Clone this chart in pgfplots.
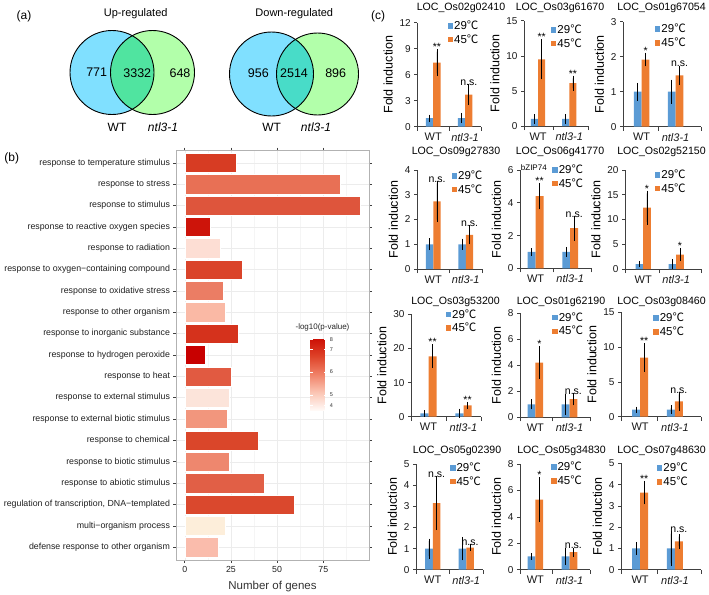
\documentclass[border=0pt]{standalone}
\usepackage{fontspec}
\setmainfont{Liberation Sans}
\newfontfamily\cjk{Noto Sans CJK SC}
\usepackage{pgfplots}
\pgfplotsset{compat=1.18}
\newcommand{\fs}[1]{\fontsize{#1}{\dimexpr #1pt*6/5\relax}\selectfont}
\newcommand{\dc}{{\cjk ℃}}

\definecolor{c29}{RGB}{91,155,213}
\definecolor{c45}{RGB}{237,125,49}
\definecolor{vennL}{RGB}{128,224,255}
\definecolor{vennR}{RGB}{178,255,170}
\definecolor{upMid}{RGB}{80,228,160}
\definecolor{downMid}{RGB}{72,220,200}

\tikzset{sig/.style={font=\fs{10.5}, anchor=south, inner sep=1pt},
  ttl/.style={font=\fs{10.6}}}

\pgfplotsset{
  fold/.style={
    scale only axis, anchor=south west,
    ybar, bar width=0.23,
    ymin=0, enlargelimits=false, clip=false,
    axis x line*=bottom, axis y line*=left,
    axis line style={black!75, line width=0.6pt},
    xtick={0,1}, xticklabels={WT, \textit{ntl3-1}},
    major x tick style={draw=none},
    tick align=outside, major tick length=3pt, minor tick length=4pt,
    y tick style={black!75, line width=0.6pt},
    minor tick style={black!75, line width=0.6pt},
    ticklabel style={font=\fs{10}, text=black!90},
    x tick label style={font=\fs{11}},
    ylabel={Fold induction}, ylabel style={font=\fs{12.5}},
    /pgf/number format/assume math mode=true,
    legend style={draw=none, fill=none, inner sep=0pt, anchor=north west,
      font=\fs{11.5}, row sep=1.5pt, nodes={inner sep=1pt}},
    legend cell align=left,
    legend image code/.code={\fill[##1, draw=none] (0pt,-2.8pt) rectangle (5.6pt,2.8pt);},
  },
  colA/.style={xmin=-0.5, xmax=1.5, minor xtick={-0.5,0.5,1.5}},
  colB/.style={xmin=-0.45, xmax=1.6, minor xtick={-0.45,0.5,1.6}},
  colC/.style={xmin=-0.55, xmax=1.75, minor xtick={-0.55,0.5,1.75}},
  eb/.style={draw=none, error bars/.cd, y dir=both, y explicit,
    error bar style={black, line width=0.6pt},
    error mark options={black, line width=0.6pt, mark size=2.6pt}},
  b29/.style={fill=c29, bar shift=-0.115, eb},
  b45/.style={fill=c45, bar shift=0.115, eb},
  gb/.style={xbar, bar width=0.9, bar shift=0, draw=white, line width=0.4pt},
}

\begin{document}
\begin{tikzpicture}

% ---------------- (a) Venn diagrams
\begin{axis}[hide axis, scale only axis, at={(0pt,0pt)}, anchor=north west,
  width=368pt, height=140pt, xmin=0, xmax=368, ymin=-140, ymax=0, clip=false]
\fill[vennL] (axis cs:112,-72.5) circle[radius=42pt];
\fill[vennR] (axis cs:152.5,-72.5) circle[radius=42pt];
\begin{scope}
\clip (axis cs:112,-72.5) circle[radius=42pt];
\fill[upMid] (axis cs:152.5,-72.5) circle[radius=42pt];
\end{scope}
\draw[black, line width=0.9pt] (axis cs:112,-72.5) circle[radius=42pt];
\draw[black, line width=0.9pt] (axis cs:152.5,-72.5) circle[radius=42pt];
\fill[vennL] (axis cs:271.5,-74) circle[radius=42pt];
\fill[vennR] (axis cs:317.5,-74) circle[radius=41pt];
\begin{scope}
\clip (axis cs:271.5,-74) circle[radius=42pt];
\fill[downMid] (axis cs:317.5,-74) circle[radius=41pt];
\end{scope}
\draw[black, line width=0.9pt] (axis cs:271.5,-74) circle[radius=42pt];
\draw[black, line width=0.9pt] (axis cs:317.5,-74) circle[radius=41pt];
\node[font=\fs{12.5}] at (axis cs:96.7,-72.7) {771};
\node[font=\fs{12.5}] at (axis cs:137.3,-72.7) {3332};
\node[font=\fs{12.5}] at (axis cs:180,-72.7) {648};
\node[font=\fs{12.5}] at (axis cs:258.3,-73.5) {956};
\node[font=\fs{12.5}] at (axis cs:294,-73.5) {2514};
\node[font=\fs{12.5}] at (axis cs:335.7,-73.5) {896};
\node[font=\fs{11}] at (axis cs:135.7,-13.3) {Up-regulated};
\node[font=\fs{11}] at (axis cs:294.3,-13.3) {Down-regulated};
\node[font=\fs{12}] at (axis cs:117,-127) {WT};
\node[font=\fs{12}] at (axis cs:163,-127) {\textit{ntl3-1}};
\node[font=\fs{12}] at (axis cs:271.7,-127) {WT};
\node[font=\fs{12}] at (axis cs:316,-127) {\textit{ntl3-1}};
\end{axis}

% ---------------- (b) GO bar chart
\begin{axis}[scale only axis, at={(176pt,-560pt)}, anchor=south west,
  width=193pt, height=410pt,
  xmin=-4.75, xmax=99.75, ymin=0.4, ymax=19.6, y dir=reverse,
  xtick={0,25,50,75}, minor xtick={12.5,37.5,62.5,87.5},
  ytick={1,...,19},
  yticklabels={response to temperature stimulus, response to stress,
    response to stimulus, response to reactive oxygen species,
    response to radiation, response to oxygen−containing compound,
    response to oxidative stress, response to other organism,
    response to inorganic substance, response to hydrogen peroxide,
    response to heat, response to external stimulus,
    response to external biotic stimulus, response to chemical,
    response to biotic stimulus, response to abiotic stimulus,
    {regulation of transcription, DNA−templated}, multi−organism process,
    defense response to other organism},
  grid=both, major grid style={gray!15, line width=0.5pt},
  minor grid style={gray!8, line width=0.3pt},
  axis line style={gray!60, line width=0.6pt},
  tick style={black!75, line width=0.6pt}, tick align=outside,
  major tick length=2.5pt, minor tick length=0pt,
  ticklabel style={font=\fs{8.8}, text=black!88},
  /pgf/number format/assume math mode=true,
  xlabel={Number of genes}, xlabel style={font=\fs{11.5}, text=black!80, yshift=-2pt},
  colormap={pv}{rgb255=(255,249,246) rgb255=(251,196,178) rgb255=(240,128,102) rgb255=(222,66,40) rgb255=(204,14,4)},
  point meta min=0, point meta max=1,
  colorbar,
  colorbar style={at={(parent axis.south east)}, anchor=south east,
    xshift=-51.3pt, yshift=150pt, scale only axis, width=16pt, height=72pt,
    ytick={0.06,0.21,0.53,0.84,0.98}, yticklabels={4,5,6,7,8},
    yticklabel pos=right,
    yticklabel style={font=\fs{5.5}, text=black!80},
    tick align=inside, major tick length=2.5pt,
    ytick style={white, line width=0.5pt},
    axis line style={draw=none}},
]
\addplot[gb, fill={rgb,255:red,215;green,60;blue,35}] coordinates {(28,1)};
\addplot[gb, fill={rgb,255:red,232;green,112;blue,85}] coordinates {(84,2)};
\addplot[gb, fill={rgb,255:red,222;green,85;blue,60}] coordinates {(95,3)};
\addplot[gb, fill={rgb,255:red,205;green,20;blue,10}] coordinates {(14,4)};
\addplot[gb, fill={rgb,255:red,253;green,222;blue,212}] coordinates {(19,5)};
\addplot[gb, fill={rgb,255:red,218;green,68;blue,42}] coordinates {(31,6)};
\addplot[gb, fill={rgb,255:red,235;green,125;blue,100}] coordinates {(21,7)};
\addplot[gb, fill={rgb,255:red,250;green,185;blue,165}] coordinates {(22,8)};
\addplot[gb, fill={rgb,255:red,213;green,50;blue,28}] coordinates {(29,9)};
\addplot[gb, fill={rgb,255:red,200;green,0;blue,0}] coordinates {(11,10)};
\addplot[gb, fill={rgb,255:red,225;green,90;blue,65}] coordinates {(25,11)};
\addplot[gb, fill={rgb,255:red,252;green,228;blue,218}] coordinates {(24,12)};
\addplot[gb, fill={rgb,255:red,242;green,150;blue,125}] coordinates {(23,13)};
\addplot[gb, fill={rgb,255:red,218;green,70;blue,42}] coordinates {(40,14)};
\addplot[gb, fill={rgb,255:red,238;green,135;blue,110}] coordinates {(24,15)};
\addplot[gb, fill={rgb,255:red,225;green,95;blue,70}] coordinates {(43,16)};
\addplot[gb, fill={rgb,255:red,218;green,72;blue,45}] coordinates {(59,17)};
\addplot[gb, fill={rgb,255:red,253;green,238;blue,218}] coordinates {(22,18)};
\addplot[gb, fill={rgb,255:red,250;green,188;blue,172}] coordinates {(18,19)};
\node[font=\fs{8}, text=black!85] at (rel axis cs:0.759,0.567) {-log10(p-value)};
\end{axis}

% ---------------- (c) qPCR panels
% row 1
\begin{axis}[fold, colA, at={(417.3pt,-126.7pt)}, width=63.7pt, height=104pt,
  ymax=12, ytick={0,3,6,9,12}, legend style={at={(0.471,1.031)}}]
\addplot[b29] coordinates {(0,1) +- (0,0.1) (1,1) +- (0,0.3)};
\addplot[b45] coordinates {(0,7.4) +- (0,1.25) (1,3.7) +- (0,0.9)};
\legend{29\dc, 45\dc}
\node[sig] at (axis cs:0.115,8.65) {**};
\node[sig] at (axis cs:1.115,4.6) {n.s.};
\end{axis}
\begin{axis}[fold, colB, at={(524pt,-126pt)}, width=64pt, height=105.3pt,
  ymax=15, ytick={0,5,10,15}, legend style={at={(0.417,0.973)}}]
\addplot[b29] coordinates {(0,1) +- (0,0.3) (1,1) +- (0,0.3)};
\addplot[b45] coordinates {(0,9.5) +- (0,2.5) (1,6.1) +- (0,0.7)};
\legend{29\dc, 45\dc}
\node[sig] at (axis cs:0.115,12.0) {**};
\node[sig] at (axis cs:1.115,6.8) {**};
\end{axis}
\begin{axis}[fold, colC, at={(623pt,-126.7pt)}, width=78pt, height=105pt,
  ymax=3, ytick={0,1,2,3}, legend style={at={(0.406,0.99)}}]
\addplot[b29] coordinates {(0,1) +- (0,0.18) (1,1) +- (0,0.27)};
\addplot[b45] coordinates {(0,1.92) +- (0,0.12) (1,1.47) +- (0,0.2)};
\legend{29\dc, 45\dc}
\node[sig] at (axis cs:0.115,2.04) {*};
\node[sig] at (axis cs:1.115,1.67) {n.s.};
\end{axis}
% row 2
\begin{axis}[fold, colA, at={(417pt,-269pt)}, width=65pt, height=99pt,
  ymax=4, ytick={0,1,2,3,4}, legend style={at={(0.528,1.005)}}]
\addplot[b29] coordinates {(0,1) +- (0,0.13) (1,1) +- (0,0.12)};
\addplot[b45] coordinates {(0,2.73) +- (0,0.73) (1,1.38) +- (0,0.28)};
\legend{29\dc, 45\dc}
\node[sig] at (axis cs:0.115,3.46) {n.s.};
\node[sig] at (axis cs:1.115,1.66) {n.s.};
\end{axis}
\begin{axis}[fold, colB, at={(520pt,-268.3pt)}, width=71pt, height=98.3pt,
  ymax=6, ytick={0,2,4,6}, legend style={at={(0.451,1.066)}}]
\addplot[b29] coordinates {(0,1) +- (0,0.08) (1,1) +- (0,0.15)};
\addplot[b45] coordinates {(0,4.4) +- (0,0.65) (1,2.45) +- (0,0.6)};
\legend{29\dc, 45\dc}
\node[sig] at (axis cs:0.115,5.05) {**};
\node[sig] at (axis cs:1.115,3.05) {n.s.};
\node[font=\fs{8}, anchor=west, inner sep=0pt] at (rel axis cs:0.01,1.02) {bZIP74};
\end{axis}
\begin{axis}[fold, colC, at={(625pt,-269pt)}, width=76pt, height=99pt,
  ymax=20, ytick={0,5,10,15,20}, legend style={at={(0.39,1.015)}}]
\addplot[b29] coordinates {(0,1) +- (0,0.1) (1,1) +- (0,0.5)};
\addplot[b45] coordinates {(0,12.4) +- (0,2.9) (1,2.9) +- (0,0.8)};
\legend{29\dc, 45\dc}
\node[sig] at (axis cs:0.115,15.3) {*};
\node[sig] at (axis cs:1.115,3.7) {*};
\end{axis}
% row 3
\begin{axis}[fold, colA, at={(411pt,-416.7pt)}, width=70pt, height=102.4pt,
  ymax=30, ytick={0,10,20,30}, legend style={at={(0.49,1.06)}}]
\addplot[b29] coordinates {(0,1) +- (0,0.2) (1,1) +- (0,0.6)};
\addplot[b45] coordinates {(0,17.7) +- (0,2.7) (1,3.3) +- (0,0.15)};
\legend{29\dc, 45\dc}
\node[sig] at (axis cs:0.115,20.4) {**};
\node[sig] at (axis cs:1.115,3.45) {**};
\end{axis}
\begin{axis}[fold, colB, at={(520pt,-417.3pt)}, width=70pt, height=104pt,
  ymax=8, ytick={0,2,4,6,8}, legend style={at={(0.457,1.02)}}]
\addplot[b29] coordinates {(0,1) +- (0,0.18) (1,1) +- (0,0.6)};
\addplot[b45] coordinates {(0,4.2) +- (0,1.05) (1,1.4) +- (0,0.28)};
\legend{29\dc, 45\dc}
\node[sig] at (axis cs:0.115,5.25) {*};
\node[sig] at (axis cs:1.115,1.68) {n.s.};
\end{axis}
\begin{axis}[fold, colC, at={(621pt,-416.7pt)}, width=80pt, height=104.4pt,
  ymax=15, ytick={0,5,10,15}, legend style={at={(0.4,1.005)}}]
\addplot[b29] coordinates {(0,1) +- (0,0.08) (1,1) +- (0,0.25)};
\addplot[b45] coordinates {(0,8.5) +- (0,1.65) (1,2.2) +- (0,1.0)};
\legend{29\dc, 45\dc}
\node[sig] at (axis cs:0.115,10.15) {**};
\node[sig] at (axis cs:1.115,3.2) {n.s.};
\end{axis}
% row 4
\begin{axis}[fold, colA, at={(416pt,-569.7pt)}, width=67pt, height=105.7pt,
  ymax=5, ytick={0,1,2,3,4,5}, legend style={at={(0.503,1.024)}}]
\addplot[b29] coordinates {(0,1) +- (0,0.35) (1,1) +- (0,0.43)};
\addplot[b45] coordinates {(0,3.15) +- (0,1.15) (1,1.05) +- (0,0.02)};
\legend{29\dc, 45\dc}
\node[sig] at (axis cs:0.115,4.3) {n.s.};
\node[sig] at (axis cs:1.115,1.07) {n.s.};
\end{axis}
\begin{axis}[fold, colB, at={(520pt,-569.7pt)}, width=70pt, height=105.7pt,
  ymax=8, ytick={0,2,4,6,8}, legend style={at={(0.439,1.03)}}]
\addplot[b29] coordinates {(0,1) +- (0,0.05) (1,1) +- (0,0.42)};
\addplot[b45] coordinates {(0,5.3) +- (0,1.5) (1,1.33) +- (0,0.15)};
\legend{29\dc, 45\dc}
\node[sig] at (axis cs:0.115,6.8) {*};
\node[sig] at (axis cs:1.115,1.48) {n.s.};
\end{axis}
\begin{axis}[fold, colC, at={(621pt,-569.7pt)}, width=80pt, height=106.4pt,
  ymax=5, ytick={0,1,2,3,4,5}, legend style={at={(0.446,1.014)}}]
\addplot[b29] coordinates {(0,1) +- (0,0.18) (1,1) +- (0,0.7)};
\addplot[b45] coordinates {(0,3.62) +- (0,0.43) (1,1.33) +- (0,0.22)};
\legend{29\dc, 45\dc}
\node[sig] at (axis cs:0.115,4.05) {**};
\node[sig] at (axis cs:1.115,1.7) {n.s.};
\end{axis}

% panel titles and letters
\node[ttl] at (461pt,-8pt) {LOC\_Os02g02410};
\node[ttl] at (560pt,-8pt) {LOC\_Os03g61670};
\node[ttl] at (661.5pt,-8pt) {LOC\_Os01g67054};
\node[ttl] at (456pt,-151.7pt) {LOC\_Os09g27830};
\node[ttl] at (560pt,-151.7pt) {LOC\_Os06g41770};
\node[ttl] at (661.5pt,-151.7pt) {LOC\_Os02g52150};
\node[ttl] at (455.5pt,-302.3pt) {LOC\_Os03g53200};
\node[ttl] at (561pt,-302.3pt) {LOC\_Os01g62190};
\node[ttl] at (661.5pt,-302.3pt) {LOC\_Os03g08460};
\node[ttl] at (457pt,-450.7pt) {LOC\_Os05g02390};
\node[ttl] at (561.5pt,-450.7pt) {LOC\_Os05g34830};
\node[ttl] at (661.5pt,-450.7pt) {LOC\_Os07g48630};
\node[font=\fs{12}] at (24pt,-16.7pt) {(a)};
\node[font=\fs{12}] at (11.7pt,-158pt) {(b)};
\node[font=\fs{12}] at (378pt,-16.7pt) {(c)};

\pgfresetboundingbox
\path[use as bounding box] (0pt,0pt) rectangle (709pt,-594pt);
\end{tikzpicture}
\end{document}
